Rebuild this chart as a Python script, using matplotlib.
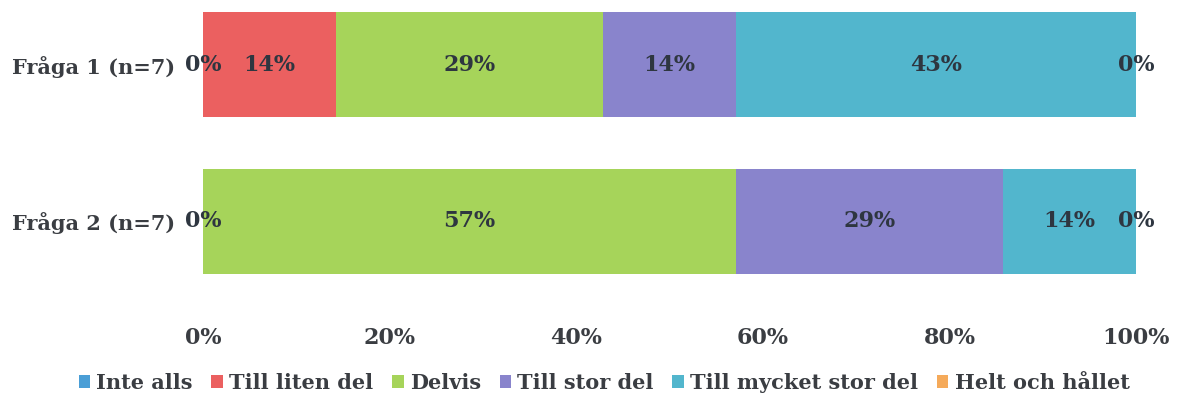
import matplotlib
matplotlib.use("Agg")
import matplotlib.pyplot as plt
import numpy as np

categories = ["Fråga 1 (n=7)", "Fråga 2 (n=7)"]
series_names = ["Inte alls", "Till liten del", "Delvis", "Till stor del",
                "Till mycket stor del", "Helt och hållet"]
# percentages per series: [Fråga 1, Fråga 2]
inte_alls = [0.0, 0.0]
till_liten_del = [14.29, 0.0]
delvis = [28.57, 57.14]
till_stor_del = [14.29, 28.57]
till_mycket_stor_del = [42.86, 14.29]
helt_och_hallet = [0.0, 0.0]
xtick_labels = ["0%", "20%", "40%", "60%", "80%", "100%"]

series = [inte_alls, till_liten_del, delvis, till_stor_del,
          till_mycket_stor_del, helt_och_hallet]
colors = ["#4A9ED6", "#EB6060", "#A6D45A", "#8984CC", "#52B6CD", "#F5AA5A"]

font = "DejaVu Serif"
txtcol = "#3a3d42"
lblcol = "#2e3640"

fig = plt.figure(figsize=(11.78, 4.03), dpi=100)
ax = fig.add_axes([203/1178, 1 - 274/403, (1136-203)/1178, 262/403])

y = np.arange(len(categories))
left = np.zeros(len(categories))
bh = 0.67
handles = []
for name, vals, c in zip(series_names, series, colors):
    vals = np.array(vals)
    h = ax.barh(y, vals, left=left, height=bh, color=c, label=name)
    handles.append(h)
    for yi, (l, v) in enumerate(zip(left, vals)):
        if yi == 1 and name == "Till liten del":
            continue  # overlaps the "Inte alls" label at the same spot
        ax.text(l + v / 2, yi, f"{v:.0f}%", ha="center", va="center",
                fontsize=16, fontweight="bold", family=font, color=lblcol)
    left = left + vals

ax.set_xlim(0, 100)
ax.set_ylim(1 + bh/2, -bh/2)
ax.set_yticks(y)
ax.set_yticklabels(categories)
ax.set_xticks(np.linspace(0, 100, 6))
ax.set_xticklabels(xtick_labels)
for lab in ax.get_yticklabels():
    lab.set_fontsize(15)
for lab in ax.get_xticklabels():
    lab.set_fontsize(16)
for lab in ax.get_yticklabels() + ax.get_xticklabels():
    lab.set_fontweight("bold")
    lab.set_family(font)
    lab.set_color(txtcol)
ax.tick_params(axis="both", length=0)
ax.tick_params(axis="x", pad=38)
ax.tick_params(axis="y", pad=20)
for s in ax.spines.values():
    s.set_visible(False)

leg = fig.legend(handles=handles, labels=series_names, loc="center",
                 bbox_to_anchor=(604/1178, 1 - 383/403), ncol=6, frameon=False,
                 handlelength=0.55, handleheight=0.55, handletextpad=0.3,
                 columnspacing=0.9,
                 prop={"family": font, "weight": "bold", "size": 15})
for t in leg.get_texts():
    t.set_color(txtcol)

fig.savefig("out.png", dpi=100)
